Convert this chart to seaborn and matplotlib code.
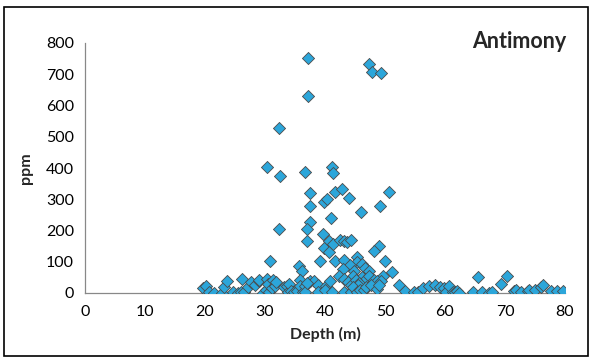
import matplotlib
matplotlib.use("Agg")
import matplotlib.pyplot as plt
import seaborn as sns
import pandas as pd
from matplotlib.patches import Rectangle

depth = [
    37.2, 37.2, 47.4, 47.8, 49.4, 32.3, 30.4, 32.5, 36.6, 41.1, 41.4, 37.5, 37.5, 37.5, 37.0, 37.0,
    32.3, 30.9, 39.9, 40.4, 41.6, 42.8, 44.0, 46.0, 41.0, 49.2, 50.6, 39.6, 40.7, 39.8, 40.7, 41.4,
    42.5, 43.1, 43.6, 44.4, 49.0, 48.1, 39.1, 41.6, 43.2, 45.3, 45.4, 44.2, 46.2, 43.0, 50.0, 35.7,
    36.1, 46.7, 47.3, 44.8, 51.2, 42.4, 44.7, 49.6, 43.1, 46.2, 46.7, 47.4, 48.1, 48.7, 37.5, 35.8,
    38.2, 38.8, 40.1, 40.9, 43.8, 44.3, 45.2, 45.7, 45.5, 49.3, 52.3,
    19.6, 20.1, 20.6, 21.5, 22.9, 23.1, 23.7, 24.7, 25.5, 26.1, 26.0, 26.5, 27.2, 27.7, 28.3, 29.0,
    29.0, 29.7, 30.1, 30.3, 30.6, 30.5, 31.1, 31.4, 31.6, 31.9, 33.1, 33.6, 33.9, 34.0, 34.4, 34.8,
    35.4, 35.8, 36.3, 36.6, 36.6, 37.0, 38.9, 40.0, 41.1, 43.1, 44.3, 44.7, 45.3, 45.9, 46.5, 46.9,
    47.6, 48.6, 49.0,
    53.4, 54.8, 55.5, 56.4, 57.3, 58.3, 59.2, 59.9, 60.2, 60.7, 61.3, 61.7, 62.0, 62.4, 64.6, 65.5,
    66.2, 67.4, 67.9, 69.3, 70.4, 71.5, 71.8, 72.7, 73.8, 74.0, 75.0, 76.0, 76.3, 77.6, 78.7, 79.6,
]
ppm = [
    751, 629, 734, 708, 703, 528, 402, 375, 388, 402, 384, 319, 280, 228, 204, 166,
    205, 104, 291, 300, 322, 332, 305, 258, 240, 280, 322, 188, 167, 145, 131, 156,
    170, 168, 162, 170, 152, 136, 101, 101, 106, 114, 99, 90, 92, 77, 104, 87,
    69, 80, 69, 69, 66, 53, 53, 53, 45, 50, 42, 53, 42, 37, 39, 42,
    37, 27, 23, 39, 34, 27, 42, 32, 27, 37, 27,
    15, 23, 4, 0, 0, 19, 39, 4, 0, 45, 4, 4, 19, 34, 27, 39,
    42, 0, 11, 45, 2, 30, 16, 42, 23, 34, 19, 21, 2, 30, 8, 4,
    8, 21, 4, 21, 4, 32, 4, 11, 4, 4, 4, 19, 4, 11, 11, 19,
    27, 13, 27,
    8, 2, 4, 15, 23, 27, 19, 15, 4, 23, 4, 2, 8, 0, 4, 50,
    4, 0, 4, 30, 53, 8, 11, 4, 8, 11, 11, 19, 27, 8, 8, 8,
]

x_ticks = [0, 10, 20, 30, 40, 50, 60, 70, 80]
y_ticks = [0, 100, 200, 300, 400, 500, 600, 700, 800]

df = pd.DataFrame({"Depth (m)": depth, "ppm": ppm})

sns.set_style("white")
plt.rcParams["font.family"] = ["Lato", "DejaVu Sans"]

fig = plt.figure(figsize=(5.93, 3.61), dpi=100)
ax = fig.add_axes([85 / 593, 68 / 361, 480 / 593, 250 / 361])

sns.scatterplot(data=df, x="Depth (m)", y="ppm", marker="D", s=38,
                color="#2CA6DA", edgecolor="#4a4a4a", linewidth=0.6, ax=ax, zorder=3)

ax.set_xlim(0, 80)
ax.set_ylim(0, 800)
ax.set_xticks(x_ticks)
ax.set_yticks(y_ticks)
ax.tick_params(axis="both", labelsize=11.5, colors="#000000", length=4, width=0.8, direction="out")
ax.tick_params(axis="x", color="#888888", pad=5)
ax.tick_params(axis="y", color="#888888", pad=4)
for s in ["top", "right"]:
    ax.spines[s].set_visible(False)
for s in ["left", "bottom"]:
    ax.spines[s].set_color("#888888")
    ax.spines[s].set_linewidth(0.9)
ax.set_xlabel("Depth (m)", fontsize=11.5, fontweight="bold", labelpad=5)
ax.set_ylabel("ppm", fontsize=11.5, fontweight="bold", labelpad=9)
for sp in ax.spines.values():
    sp.set_zorder(2)
ax.set_clip_on(False)

fig.text(0.955, 0.885, "Antimony", ha="right", va="center", fontsize=15.5, fontweight="bold")

fig.patches.append(Rectangle((4 / 593, 5 / 361), 584 / 593, 349 / 361, transform=fig.transFigure,
                             fill=False, edgecolor="black", linewidth=1.2))

fig.savefig("out.png", dpi=100)
